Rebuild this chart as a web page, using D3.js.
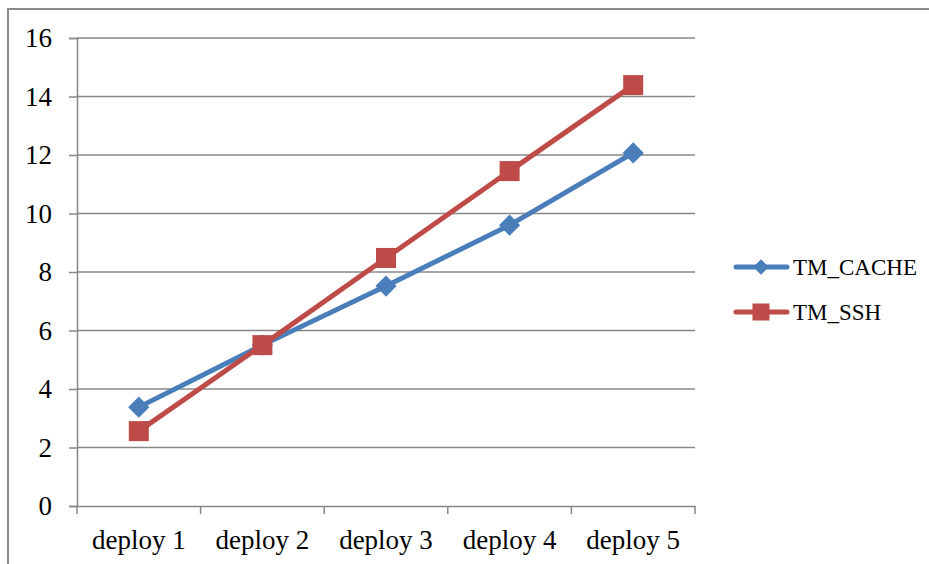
<!DOCTYPE html>
<html><head><meta charset="utf-8">
<script src="https://cdn.jsdelivr.net/npm/d3@7/dist/d3.min.js"></script>
<style>body{margin:0;background:#fff}svg{display:block}</style>
</head><body>
<script>
const categories = ["deploy 1","deploy 2","deploy 3","deploy 4","deploy 5"];
const cacheValues = [3.38, 5.5, 7.52, 9.6, 12.07];
const sshValues = [2.56, 5.5, 8.48, 11.45, 14.39];
const yTicks = [0,2,4,6,8,10,12,14,16];
const seriesNames = ["TM_CACHE","TM_SSH"];

const W=929,H=564;
const svg=d3.select("body").append("svg").attr("width",W).attr("height",H);
const font="'Liberation Serif', serif";

svg.append("rect").attr("x",8).attr("y",9).attr("width",1000).attr("height",1000)
  .attr("fill","none").attr("stroke","#8a8a8a").attr("stroke-width",2);

const x0=77,x1=695,y0=506,y1=38;
const x=d3.scaleBand().domain(categories).range([x0,x1]);
const y=d3.scaleLinear().domain([0,16]).range([y0,y1]);

svg.append("g").selectAll("line").data(yTicks.filter(d=>d>0)).join("line")
  .attr("x1",x0).attr("x2",x1).attr("y1",d=>y(d)).attr("y2",d=>y(d))
  .attr("stroke","#878787").attr("stroke-width",1.5);

const yAxis=svg.append("g").attr("transform",`translate(${x0},0)`)
  .call(d3.axisLeft(y).tickValues(yTicks).tickSize(8).tickPadding(17).tickFormat(d3.format("d")));
const xAxis=svg.append("g").attr("transform",`translate(0,${y0})`)
  .call(d3.axisBottom(x).tickSize(0).tickPadding(24));
[yAxis,xAxis].forEach(a=>{
  a.attr("font-family",font).attr("font-size",27);
  a.select(".domain").attr("stroke","#878787").attr("stroke-width",1.5);
  a.selectAll(".tick line").attr("stroke","#878787").attr("stroke-width",1.5);
  a.selectAll("text").attr("font-family",font).attr("font-size",27).attr("fill","#000");
});
const bounds=categories.map(c=>x(c)).concat([x1]);
xAxis.append("g").selectAll("line").data(bounds).join("line")
  .attr("x1",d=>d).attr("x2",d=>d).attr("y1",0).attr("y2",8)
  .attr("stroke","#878787").attr("stroke-width",1.5);

const cx=c=>x(c)+x.bandwidth()/2;
const line=d3.line().x((d,i)=>cx(categories[i])).y(d=>y(d));
const colors=["#4A7EBB","#BE4B48"];
[cacheValues,sshValues].forEach((vals,si)=>{
  svg.append("path").datum(vals).attr("d",line).attr("fill","none")
    .attr("stroke",colors[si]).attr("stroke-width",5).attr("stroke-linejoin","round");
});
const diamond=(g,px,py,s)=>g.append("rect").attr("x",px-s/2).attr("y",py-s/2).attr("width",s).attr("height",s)
  .attr("transform",`rotate(45,${px},${py})`).attr("fill",colors[0]);
const square=(g,px,py,s)=>g.append("rect").attr("x",px-s/2).attr("y",py-s/2).attr("width",s).attr("height",s).attr("fill",colors[1]);
const mg=svg.append("g");
cacheValues.forEach((v,i)=>diamond(mg,cx(categories[i]),y(v),15));
sshValues.forEach((v,i)=>square(mg,cx(categories[i]),y(v),20));

const lg=svg.append("g");
const ly=[267,312];
seriesNames.forEach((n,i)=>{
  lg.append("line").attr("x1",736).attr("x2",787).attr("y1",ly[i]).attr("y2",ly[i])
    .attr("stroke",colors[i]).attr("stroke-width",5).attr("stroke-linecap","round");
  if(i===0) diamond(lg,761,ly[i],11); else square(lg,761,ly[i],17);
  lg.append("text").attr("x",793).attr("y",ly[i]).attr("dy","0.35em").text(n)
    .attr("font-family",font).attr("font-size",23).attr("fill","#000");
});
</script>
</body></html>
